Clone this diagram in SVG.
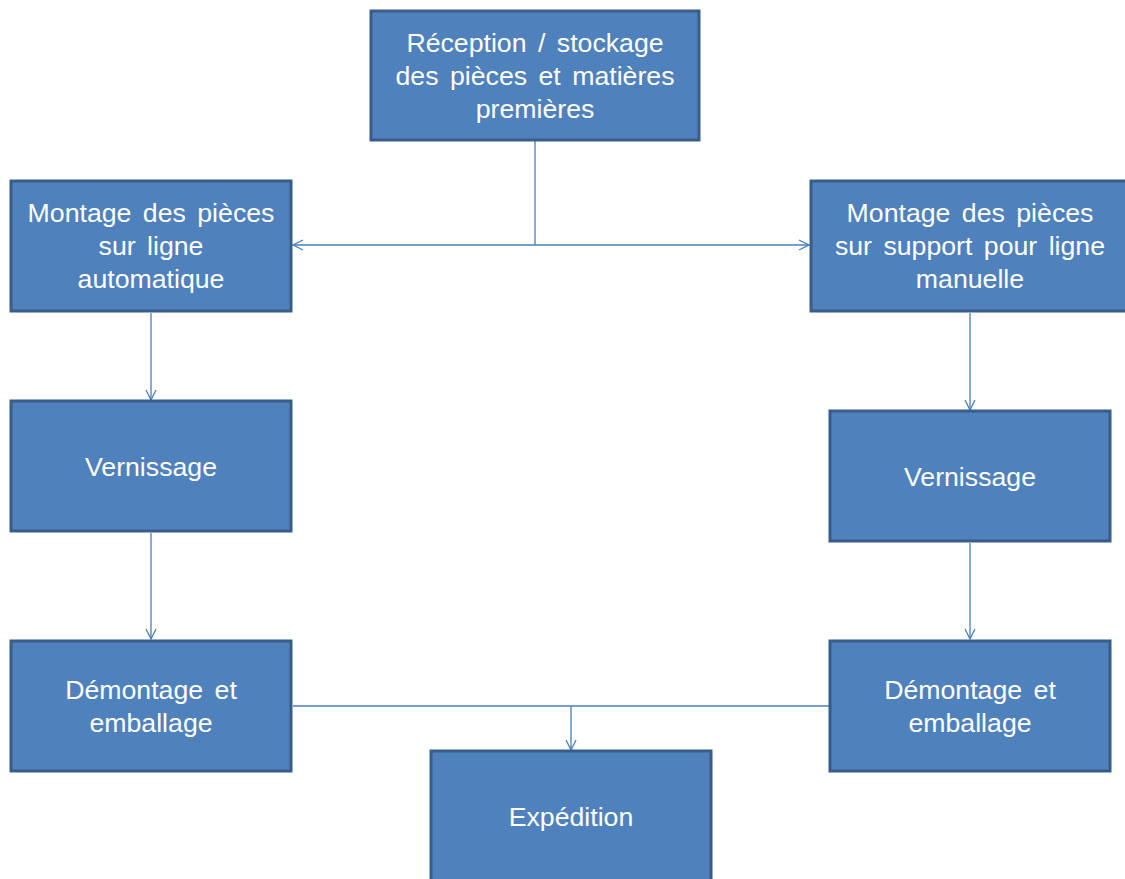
<svg xmlns="http://www.w3.org/2000/svg" width="1125" height="879" viewBox="0 0 1125 879">
<defs>
<style>
.box{fill:#4F81BD;stroke:#385D8A;stroke-width:3}
.t{font-family:"Liberation Sans",Arial,sans-serif;font-size:26.7px;fill:#FFFFFF;text-anchor:middle;word-spacing:4px}
.c{fill:none;stroke:#4A7EBB;stroke-width:1.3}
</style>
<marker id="arr" viewBox="0 0 12 12" refX="11" refY="6" markerWidth="12" markerHeight="12" markerUnits="userSpaceOnUse" orient="auto">
<path d="M1,1 L11,6 L1,11" fill="none" stroke="#4A7EBB" stroke-width="1.3"/>
</marker>
</defs>
<rect width="1125" height="879" fill="#FFFFFF"/>
<g id="connectors">
<path class="c" d="M535,141 V245"/>
<path class="c" d="M535,245 H293" marker-end="url(#arr)"/>
<path class="c" d="M535,245 H809" marker-end="url(#arr)"/>
<path class="c" d="M151,313 V400" marker-end="url(#arr)"/>
<path class="c" d="M970,313 V410" marker-end="url(#arr)"/>
<path class="c" d="M151,533 V639" marker-end="url(#arr)"/>
<path class="c" d="M970,543 V639" marker-end="url(#arr)"/>
<path class="c" d="M293,706 H829"/>
<path class="c" d="M571,706 V750" marker-end="url(#arr)"/>
</g>
<g id="n-reception">
<rect class="box" x="371" y="11" width="328" height="129"/>
<text class="t" x="535" y="52">Réception / stockage</text>
<text class="t" x="535" y="85">des pièces et matières</text>
<text class="t" x="535" y="118">premières</text>
</g>
<g id="n-montage-auto">
<rect class="box" x="11" y="181" width="280" height="130"/>
<text class="t" x="151" y="222">Montage des pièces</text>
<text class="t" x="151" y="255">sur ligne</text>
<text class="t" x="151" y="288">automatique</text>
</g>
<g id="n-montage-manuelle">
<rect class="box" x="811" y="181" width="320" height="130"/>
<text class="t" x="970" y="222">Montage des pièces</text>
<text class="t" x="970" y="255">sur support pour ligne</text>
<text class="t" x="970" y="288">manuelle</text>
</g>
<g id="n-vernissage-gauche">
<rect class="box" x="11" y="401" width="280" height="130"/>
<text class="t" x="151" y="476">Vernissage</text>
</g>
<g id="n-vernissage-droite">
<rect class="box" x="830" y="411" width="280" height="130"/>
<text class="t" x="970" y="486">Vernissage</text>
</g>
<g id="n-demontage-gauche">
<rect class="box" x="11" y="641" width="280" height="130"/>
<text class="t" x="151" y="699">Démontage et</text>
<text class="t" x="151" y="732">emballage</text>
</g>
<g id="n-demontage-droite">
<rect class="box" x="830" y="641" width="280" height="130"/>
<text class="t" x="970" y="699">Démontage et</text>
<text class="t" x="970" y="732">emballage</text>
</g>
<g id="n-expedition">
<rect class="box" x="431" y="751" width="280" height="140"/>
<text class="t" x="571" y="826">Expédition</text>
</g>
</svg>
